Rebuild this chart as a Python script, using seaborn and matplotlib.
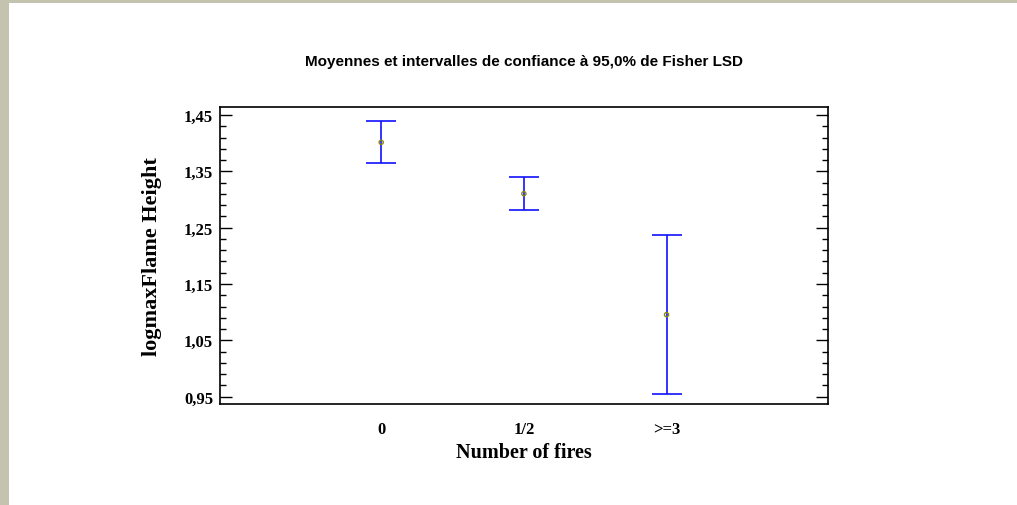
import numpy as np
import pandas as pd
import matplotlib
matplotlib.use("Agg")
import matplotlib.pyplot as plt
import seaborn as sns
from matplotlib.patches import Rectangle
from matplotlib.ticker import FixedLocator

# values
groups = ["0", "1/2", ">=3"]
means = [1.4015, 1.3103, 1.0956]
lower = [1.3653, 1.2819, 0.9548]
upper = [1.4388, 1.3394, 1.2364]

title = "Moyennes et intervalles de confiance à 95,0% de Fisher LSD"
xlabel = "Number of fires"
ylabel = "logmaxFlame Height"
yticks = [0.95, 1.05, 1.15, 1.25, 1.35, 1.45]
yminor = [round(0.95 + 0.02 * i, 2) for i in range(26)]

df = pd.DataFrame({"group": groups, "mean": means, "lower": lower, "upper": upper})

sns.set_theme(style="white")
plt.rcParams["font.family"] = ["Liberation Serif", "DejaVu Serif"]

fig = plt.figure(figsize=(10.17, 5.06), dpi=100)
fig.patch.set_facecolor("#c3c3b0")
# white sheet with the faded border on left and top
fig.patches.append(Rectangle((9 / 1017, 0), 1, 1 - 4 / 506, transform=fig.transFigure,
                             facecolor="white", edgecolor="none", zorder=-10))

ax = fig.add_axes([0.2163, 0.1996, 0.5976, 0.587])
ax.set_zorder(2)
ax.set_facecolor("white")

ax.errorbar(df["group"], df["mean"],
            yerr=[df["mean"] - df["lower"], df["upper"] - df["mean"]],
            fmt="none", ecolor="#1010ff", elinewidth=1.2, capsize=10.5, capthick=1.2,
            zorder=2)
sns.scatterplot(data=df, x="group", y="mean", ax=ax, marker="o", s=9,
                facecolor="none", edgecolor="#8a8a10", linewidth=1.0, zorder=3)

ax.set_xlim(-1.13, 3.13)
ax.set_ylim(0.937, 1.4642)
ax.yaxis.set_major_locator(FixedLocator(yticks))
ax.yaxis.set_minor_locator(FixedLocator(yminor))
ax.set_yticklabels([f"{v:.2f}".replace(".", ",") for v in yticks])

for s in ax.spines.values():
    s.set_color("black")
    s.set_linewidth(1.2)

ax.tick_params(axis="y", which="major", direction="in", length=8.5, width=1.0,
               left=True, right=True, color="black", labelsize=12, pad=5)
ax.tick_params(axis="y", which="minor", direction="in", length=4.5, width=1.0,
               left=True, right=True, color="black")
ax.tick_params(axis="x", which="both", length=0, labelsize=12, pad=12)
for lab in ax.get_xticklabels() + ax.get_yticklabels():
    lab.set_fontweight("bold")
    lab.set_color("black")

ax.set_xlabel(xlabel, fontsize=14.5, fontweight="bold", color="black", labelpad=4)
ax.set_ylabel(ylabel, fontsize=16, fontweight="bold", color="black", labelpad=16)

fig.text(0.5152, 0.878, title, ha="center", va="center", fontsize=11,
         fontweight="bold", family=["Liberation Sans", "DejaVu Sans"], color="black")

fig.savefig("out.png", dpi=100)
